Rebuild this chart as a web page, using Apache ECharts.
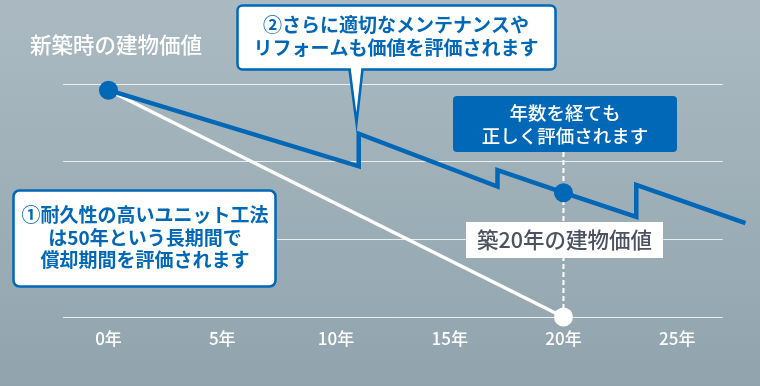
<!DOCTYPE html>
<html>
<head>
<meta charset="utf-8">
<script src="https://cdn.jsdelivr.net/npm/echarts@6/dist/echarts.min.js"></script>
<style>
html,body{margin:0;padding:0;}
#c{width:760px;height:386px;}
</style>
</head>
<body>
<div id="c"></div>
<script>
// ---- data ----
const tickYears = [0, 5, 10, 15, 20, 25];
const gridValues = [0, 100, 200, 300];
const gridFrom = -2;
const gridTo = 27;
const blueX = [0, 11, 11, 17.1, 17.1, 20, 23.2, 23.2, 28];
const blueY = [292, 194, 236, 168, 189, 160, 129, 170, 121];
const whiteX = [0, 20];
const whiteY = [292, 0];
const blueDotX = [0, 20];
const blueDotY = [292, 160];
const connectorX = [20, 20];
const connectorY = [0, 213];
const titleText = '新築時の建物価値';
const callout1 = ['①耐久性の高いユニット工法', 'は50年という長期間で', '償却期間を評価されます'];
const callout2 = ['②さらに適切なメンテナンスや', 'リフォームも価値を評価されます'];
const blueBoxText = ['年数を経ても', '正しく評価されます'];
const labelText = '築20年の建物価値';

const BLUE = '#0068b7';
const FONT = '"Noto Sans CJK JP", "Noto Sans", sans-serif';

const zip = (xs, ys) => xs.map((x, i) => [x, ys[i]]);

const chart = echarts.init(document.getElementById('c'), null, {renderer: 'canvas'});

function textEl(str, x, y, size, color, weight, z) {
  return {
    type: 'text', z: z || 20,
    style: {
      text: str, x: x, y: y, fill: color,
      font: (weight || 'normal') + ' ' + size + 'px ' + FONT,
      textAlign: 'center', textVerticalAlign: 'middle'
    }
  };
}

const graphics = [];
// title
graphics.push({
  type: 'text', z: 20,
  style: { text: titleText, x: 30, y: 45, fill: '#ffffff',
    font: '500 21.5px ' + FONT, textAlign: 'left', textVerticalAlign: 'middle' }
});
// callout 2 box with tail
graphics.push({ type: 'rect', z: 10, shape: {x: 237.5, y: 5.5, width: 318, height: 64, r: 5},
  style: {fill: '#ffffff', stroke: BLUE, lineWidth: 2.5} });
graphics.push({ type: 'polygon', z: 11, shape: {points: [[350.5, 66], [356.5, 120], [361.5, 66]]},
  style: {fill: '#ffffff'} });
graphics.push({ type: 'polyline', z: 12, shape: {points: [[349.5, 69.5], [356.5, 123], [362.5, 69.5]]},
  style: {stroke: BLUE, lineWidth: 2.5, fill: null} });
callout2.forEach((t, i) => graphics.push(textEl(t, 396, 25 + i * 23, 19, BLUE, 'bold')));
// callout 1 box
graphics.push({ type: 'rect', z: 10, shape: {x: 13.5, y: 190.5, width: 262, height: 96, r: 6},
  style: {fill: '#ffffff', stroke: BLUE, lineWidth: 2.5} });
callout1.forEach((t, i) => graphics.push(textEl(t, 145, 215 + i * 22.5, 19, BLUE, 'bold')));
// blue box
graphics.push({ type: 'rect', z: 10, shape: {x: 453, y: 96, width: 224, height: 56, r: 4},
  style: {fill: BLUE} });
blueBoxText.forEach((t, i) => graphics.push(textEl(t, 565, 113 + i * 22.5, 18.5, '#ffffff', '500')));
// label box
graphics.push({ type: 'rect', z: 10, shape: {x: 466, y: 222, width: 197, height: 36},
  style: {fill: '#ffffff'} });
graphics.push(textEl(labelText, 564.5, 240, 21.5, '#4b5262', '500'));

const option = {
  animation: false,
  backgroundColor: {
    type: 'linear', x: 0, y: 0, x2: 0, y2: 1,
    colorStops: [{offset: 0, color: '#abbac2'}, {offset: 1, color: '#91a4ae'}]
  },
  grid: {left: 63, right: 10, top: 84, bottom: 69},
  xAxis: {
    type: 'value', min: -2, max: 28.2,
    axisLine: {show: false}, axisTick: {show: false}, splitLine: {show: false},
    axisLabel: {
      customValues: tickYears, margin: 13,
      color: '#ffffff', fontSize: 17, fontWeight: 500, fontFamily: FONT,
      formatter: v => v + '年'
    }
  },
  yAxis: {
    type: 'value', min: 0, max: 300, interval: 100,
    axisLine: {show: false}, axisTick: {show: false}, axisLabel: {show: false},
    splitLine: {show: false}
  },
  graphic: graphics,
  series: [
    {
      type: 'line', data: [], symbol: 'none', z: 1, silent: true,
      markLine: {
        silent: true, symbol: 'none', label: {show: false},
        lineStyle: {color: 'rgba(255,255,255,0.8)', width: 1, type: 'solid'},
        data: gridValues.map(v => [{coord: [gridFrom, v]}, {coord: [gridTo, v]}])
      }
    },
    {
      type: 'line', data: zip(connectorX, connectorY), symbol: 'none', z: 3,
      lineStyle: {color: '#ffffff', width: 2, type: [5, 3]}, silent: true
    },
    {
      type: 'line', data: zip(whiteX, whiteY), symbol: 'none', z: 4,
      lineStyle: {color: '#ffffff', width: 3.5}
    },
    {
      type: 'line', data: zip(blueX, blueY), symbol: 'none', z: 5,
      lineStyle: {color: BLUE, width: 4.5, join: 'miter'}
    },
    {
      type: 'scatter', data: zip(blueDotX, blueDotY), symbolSize: 19, z: 6,
      itemStyle: {color: BLUE, opacity: 1}
    },
    {
      type: 'scatter', data: [[whiteX[1], whiteY[1]]], symbolSize: 19, z: 6,
      itemStyle: {color: '#ffffff', opacity: 1}
    }
  ]
};
chart.setOption(option);
</script>
</body>
</html>
